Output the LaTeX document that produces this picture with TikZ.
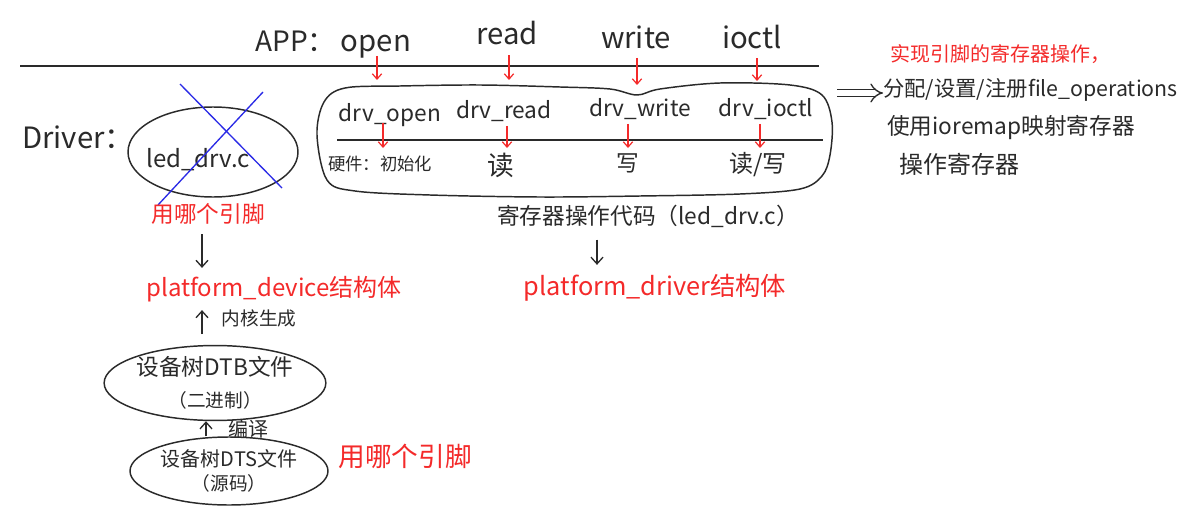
\documentclass[tikz,border=0pt]{standalone}
\usepackage{fontspec}
\setmainfont{Noto Sans CJK SC}
\usetikzlibrary{arrows.meta,shapes.geometric}
\definecolor{myred}{HTML}{F42A2A}
\definecolor{myblue}{HTML}{2A2AE6}
\definecolor{ink}{HTML}{2A2A2A}
\newcommand\fsz[2]{\fontsize{#1}{#2}\selectfont}
\tikzset{
  txt/.style={inner sep=0pt, text=ink},
  redtxt/.style={inner sep=0pt, text=myred},
  rarr/.style={draw=myred, line width=0.9pt, -{Straight Barb[length=4pt,width=7pt]}},
  barr/.style={draw=ink, line width=1pt, -{Straight Barb[length=5pt,width=9pt]}},
  ell/.style={ellipse, draw=ink, line width=1.1pt, inner sep=0pt, text=ink, align=center},
  stroke/.style={draw=ink, line width=1.1pt}
}
\begin{document}
\begin{tikzpicture}[x=0.75pt,y=-0.75pt]
\useasboundingbox (0,0) rectangle (1199,517);
\fill[white] (0,0) rectangle (1199,517);

% top line
\coordinate (L0) at (20,66);
\coordinate (L1) at (819,66);
\draw[stroke] (L0) -- (L1);

% App row
\node[txt, anchor=west, font=\fsz{21}{25}] (app) at (255,41) {APP：};
\node[txt, font=\fsz{22}{26}] (open) at (376,47) {open};
\node[txt, font=\fsz{22}{26}] (read) at (507,33) {read};
\node[txt, font=\fsz{22}{26}] (write) at (636,37) {write};
\node[txt, font=\fsz{22}{26}] (ioctl) at (752,37) {ioctl};

% blob
\draw[stroke] plot[smooth cycle, tension=0.55] coordinates {
 (317,135) (324,102) (345,88) (400,86) (480,85) (560,87) (610,89) (637,95)
 (660,89) (720,83) (790,85) (822,95) (832,122) (830,155) (822,176) (800,189)
 (740,194) (640,196) (540,197) (430,195) (355,191) (327,180)};
\coordinate (blobR) at (837,93);

\node[txt, font=\fsz{17}{20}] (dopen) at (390,115) {drv\_open};
\node[txt, font=\fsz{17}{20}] (dread) at (504,111) {drv\_read};
\node[txt, font=\fsz{17}{20}] (dwrite) at (640,109) {drv\_write};
\node[txt, font=\fsz{17}{20}] (dioctl) at (766,109) {drv\_ioctl};

\coordinate (M0) at (337,140);
\coordinate (M1) at (823,140);
\draw[stroke] (M0) -- (M1);

\node[txt, font=\fsz{13}{16}] (hw) at (380,164) {硬件：初始化};
\node[txt, font=\fsz{20}{23}] (rd) at (501,165) {读};
\node[txt, font=\fsz{17}{20}] (wr) at (628,163) {写};
\node[txt, font=\fsz{18}{21}] (rw) at (758,165) {读/写};

% red arrows top row
\coordinate (a1) at (377,80);
\coordinate (a2) at (509,80);
\coordinate (a3) at (637,85);
\coordinate (a4) at (757,81);
\draw[rarr] (open.south -| a1) ++(0,-3) -- (a1);
\draw[rarr] (read.south -| a2) ++(0,10) -- (a2);
\draw[rarr] (write.south -| a3) ++(0,9) -- (a3);
\draw[rarr] (ioctl.south -| a4) ++(0,9) -- (a4);

% red arrows second row
\coordinate (b1) at (383,148);
\coordinate (b2) at (507,148);
\coordinate (b3) at (628,148);
\coordinate (b4) at (760,148);
\draw[rarr] (dopen.south -| b1) ++(0,-4) -- (b1);
\draw[rarr] (dread.south -| b2) ++(0,4) -- (b2);
\draw[rarr] (dwrite.south -| b3) ++(0,4) -- (b3);
\draw[rarr] (dioctl.south -| b4) ++(0,4) -- (b4);

% Driver
\node[txt, anchor=west, font=\fsz{22}{26}] (drv) at (22,137) {Driver：};
\node[ell, minimum width=127.5pt, minimum height=67.5pt] (led) at (213,152) {};
\node[txt, font=\fsz{18}{21}] (ledtxt) at (198,160) {led\_drv.c};
\draw[myblue, line width=1pt] (180,84) -- (282,188);
\draw[myblue, line width=1pt] (263,92) -- (158,205);

\node[redtxt, font=\fsz{17}{20}] (pin1) at (208,214) {用哪个引脚};
\node[redtxt, font=\fsz{18}{21}] (pdev) at (274,289) {platform\_device结构体};
\draw[barr, shorten <=7pt, shorten >=6pt] (pin1.south -| 202,0) -- (pdev.north -| 202,0);

\node[ell, minimum width=139.5pt, minimum height=52.5pt, font=\fsz{17}{24}] (dtb) at (215,383) {设备树DTB文件\\{\fsz{14}{17}（二进制）}};
\draw[barr, shorten <=8pt, shorten >=6pt] (dtb.north -| 202,0) -- (pdev.south -| 202,0);
\node[txt, font=\fsz{14}{17}] (kgen) at (259,318) {内核生成};

\node[ell, minimum width=148.5pt, minimum height=51pt, font=\fsz{15}{18}] (dts) at (229,471) {设备树DTS文件\\{\fsz{14}{17}（源码）}};
\draw[barr] (dts.north -| 206,0) -- (dtb.south -| 206,0);
\node[txt, font=\fsz{15}{18}] (comp) at (248,429) {编译};
\node[redtxt, font=\fsz{20}{24}] (pin2) at (405,456) {用哪个引脚};

% driver side
\node[txt, font=\fsz{17}{20}] (regc) at (648,216) {寄存器操作代码（led\_drv.c）};
\node[redtxt, font=\fsz{19}{22}] (pdrv) at (655,288) {platform\_driver结构体};
\draw[barr, shorten <=9pt, shorten >=7pt] (regc.south -| 597,0) -- (pdrv.north -| 597,0);

% right side
\node[redtxt, font=\fsz{15}{18}] (impl) at (1000,54) {实现引脚的寄存器操作，};
\node[txt, anchor=west, font=\fsz{16}{19}] (ops) at (883,90) {分配/设置/注册file\_operations};
\node[txt, font=\fsz{17}{20}] (iorm) at (1011,128) {使用ioremap映射寄存器};
\node[txt, font=\fsz{18}{21}] (oper) at (959,164) {操作寄存器};
\draw[draw=ink, line width=1pt, double, double distance=4pt, -{Implies[scale=1.5]}] (blobR) -- (ops.west |- blobR);
\end{tikzpicture}
\end{document}
